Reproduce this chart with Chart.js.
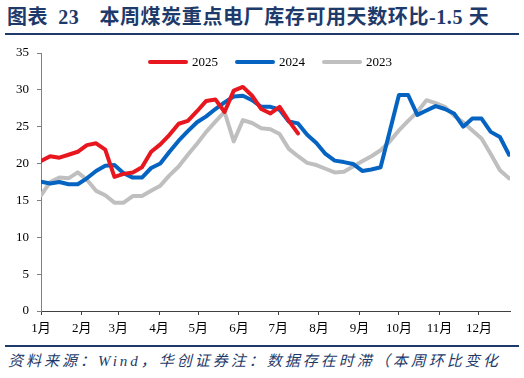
<!DOCTYPE html>
<html>
<head>
<meta charset="utf-8">
<script src="https://cdn.jsdelivr.net/npm/chart.js@4.4.1/dist/chart.umd.min.js"></script>
<style>
* {
	box-sizing: border-box;
}

html, body {
	margin: 0;
	padding: 0;
	background: #fff;
}

body {
	position: relative;
	width: 524px;
	height: 378px;
	overflow: hidden;
}

.title {
	position: absolute;
	left: 5px;
	top: 0;
	width: 514px;
	height: 35px;
	padding-left: 2px;
	border-bottom: 2px solid #1E3A6A;
	color: #1E3A6A;
	font: bold 20px "Liberation Serif", "Noto Sans CJK SC", serif;
	letter-spacing: 0.6px;
	line-height: 34px;
	white-space: nowrap;
}

.title .num {
	margin-left: 10px;
	margin-right: 20px;
}

.plot {
	position: absolute;
	left: 0;
	top: 35px;
	width: 524px;
	height: 308px;
}

.legend {
	position: absolute;
	left: 148px;
	top: 54px;
	display: flex;
	align-items: center;
	font: 13px "Liberation Serif", serif;
	color: #000;
}

.legend .item {
	display: flex;
	align-items: center;
	margin-right: 17px;
}

.legend .line {
	width: 40px;
	height: 4px;
	border-radius: 2px;
	margin-right: 4px;
}

.footer {
	position: absolute;
	left: 5px;
	top: 345px;
	width: 514px;
	height: 33px;
	padding-left: 3px;
	border-top: 2px solid #1E3A6A;
	color: #1E3A6A;
	font: italic 15px "Liberation Serif", "Noto Sans CJK SC", serif;
	letter-spacing: 3px;
	line-height: 28px;
	white-space: nowrap;
}
</style>
</head>
<body>
<div class="title">图表<span class="num">23</span>本周煤炭重点电厂库存可用天数环比-1.5 天</div>
<div class="plot"><canvas id="chart"></canvas></div>
<div class="legend" id="legend"></div>
<div class="footer">资料来源：Wind，华创证券注：数据存在时滞（本周环比变化</div>
<script>
// month labels and where each month starts, in weeks from 1 Jan
const months = ['1月', '2月', '3月', '4月', '5月', '6月', '7月', '8月', '9月', '10月', '11月', '12月'];
const monthStartDays = [0, 31, 59, 90, 120, 151, 181, 212, 243, 273, 304, 334];

const yTicks = [0, 5, 10, 15, 20, 25, 30, 35];

// weekly values, one per week from the first week of January
const values2025 = [20.35, 21.0, 20.8, 21.2, 21.6, 22.5, 22.75, 21.9, 18.2, 18.6,
	18.8, 19.5, 21.6, 22.6, 23.9, 25.4, 25.8, 27.1, 28.5, 28.7,
	27.0, 29.9, 30.4, 29.2, 27.4, 26.8, 27.7, 25.8, 24.1];

const values2024 = [17.55, 17.3, 17.5, 17.2, 17.2, 18.0, 19.0, 19.7, 19.8, 18.7,
	18.1, 18.1, 19.4, 20.0, 21.6, 23.1, 24.4, 25.6, 26.4, 27.4,
	28.3, 29.1, 29.2, 28.6, 27.7, 27.7, 27.3, 25.7, 25.45, 23.9,
	22.8, 21.3, 20.4, 20.2, 19.95, 19.0, 19.2, 19.5, 24.4, 29.3,
	29.3, 26.6, 27.2, 27.8, 27.4, 26.8, 25.0, 26.1, 26.1, 24.3,
	23.6, 21.2];

const values2023 = [15.7, 17.5, 18.1, 18.0, 18.8, 17.8, 16.3, 15.7, 14.7, 14.7,
	15.6, 15.6, 16.3, 17.0, 18.4, 19.6, 21.2, 22.7, 24.3, 25.7,
	27.0, 23.0, 25.9, 25.5, 24.8, 24.65, 24.0, 22.0, 21.0, 20.1,
	19.8, 19.3, 18.8, 18.9, 19.6, 20.3, 21.0, 21.8, 23.0, 24.5,
	25.8, 27.0, 28.6, 28.2, 27.7, 26.5, 25.6, 24.5, 23.4, 21.3,
	19.1, 18.0];

const font = "'Liberation Serif', 'Times New Roman', 'Noto Sans CJK SC', serif";

function points(values)
{
	return values.map((y, x) => ({x, y}));
}

function series(label, values, color)
{
	return {label,
		data: points(values),
		borderColor: color,
		backgroundColor: color,
		borderWidth: 4,
		borderJoinStyle: 'round',
		borderCapStyle: 'round',
		pointRadius: 0,
		tension: 0
	};
}

const chart = new Chart(document.getElementById('chart'), {
	type: 'line',
	data: {
		datasets: [
			series('2025', values2025, '#E8171F'),
			series('2024', values2024, '#0563C1'),
			series('2023', values2023, '#BFBFBF')
		]
	},
	options: {
		responsive: true,
		maintainAspectRatio: false,
		animation: false,
		layout: {padding: {top: 18, right: 14, left: 0, bottom: 0}},
		plugins: {
			legend: {display: false},
			tooltip: {enabled: false}
		},
		scales: {
			x: {
				type: 'linear',
				min: 0,
				max: 51.1,
				afterFit: s => { s.height = 32; },
				afterBuildTicks: s => { s.ticks = monthStartDays.map(d => ({value: d / 7})); },
				grid: {drawOnChartArea: false, drawTicks: true, tickLength: 4, color: '#404040'},
				border: {display: true, color: '#404040', width: 1},
				ticks: {
					autoSkip: false,
					maxRotation: 0,
					padding: 6,
					color: '#000',
					font: {family: font, size: 13},
					callback: (v, i) => months[i]
				}
			},
			y: {
				min: 0,
				max: 35,
				afterFit: s => { s.width = 41; },
				afterBuildTicks: s => { s.ticks = yTicks.map(value => ({value})); },
				grid: {drawOnChartArea: false, drawTicks: true, tickLength: 4, color: '#808080'},
				border: {display: true, color: '#808080', width: 1},
				ticks: {
					padding: 8,
					color: '#000',
					font: {family: font, size: 13}
				}
			}
		}
	}
});

// legend built from the chart's own datasets
const legend = document.getElementById('legend');
chart.data.datasets.forEach(d =>
{
	const item = document.createElement('div');
	item.className = 'item';
	const line = document.createElement('span');
	line.className = 'line';
	line.style.background = d.borderColor;
	const text = document.createElement('span');
	text.textContent = d.label;
	item.append(line, text);
	legend.appendChild(item);
});
</script>
</body>
</html>
